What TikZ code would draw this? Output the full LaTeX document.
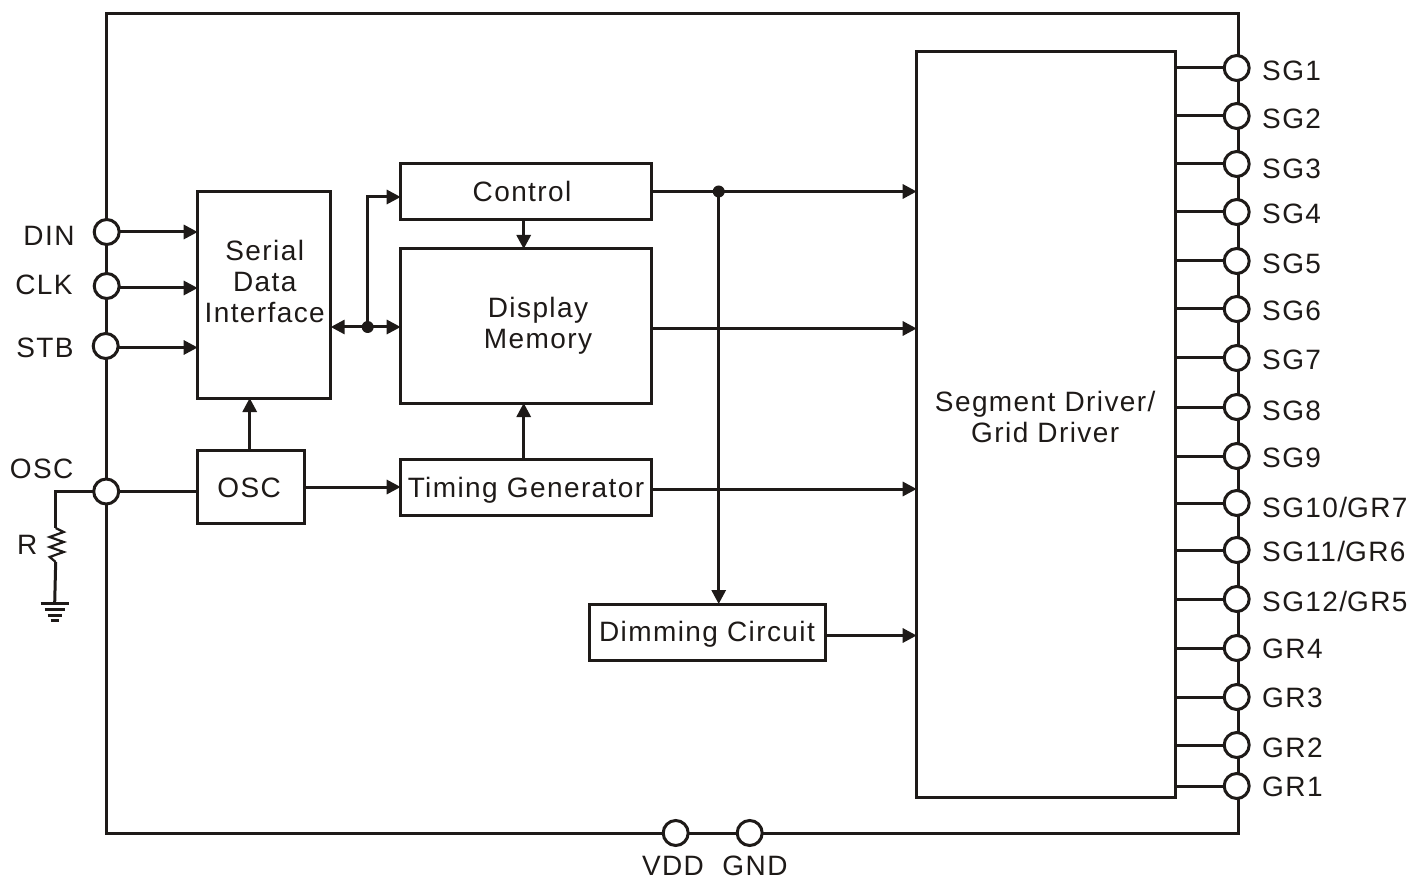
\documentclass[tikz,border=0pt]{standalone}
\usepackage{fontspec}
\setmainfont[LetterSpace=5]{Liberation Sans}
\usetikzlibrary{arrows.meta}
\definecolor{ink}{HTML}{1E1A18}
\tikzset{
  wire/.style={draw=ink,line width=3pt,line join=miter},
  arr/.style={wire,-{Triangle[length=14pt,width=14pt]},shorten >=0pt},
  biarr/.style={wire,{Triangle[length=14pt,width=14pt]}-{Triangle[length=14pt,width=14pt]}},
  block/.style={draw=ink,line width=3pt,fill=white,inner sep=0pt,outer sep=0pt},
  pin/.style={circle,draw=ink,line width=3pt,fill=white,minimum size=25pt,inner sep=0pt,outer sep=0pt},
  dot/.style={circle,fill=ink,minimum size=12pt,inner sep=0pt,outer sep=0pt},
  lbl/.style={text=ink,inner sep=0pt,outer sep=0pt,align=center,font=\fontsize{28}{31}\selectfont},
  pinlbl/.style={lbl,anchor=west},
}
\begin{document}
\begin{tikzpicture}[x=1pt,y=-1pt]
\useasboundingbox (0.3,0) rectangle (1425.3,877);
\fill[white] (0.3,0) rectangle (1425.3,877);
% frame
\coordinate (ftl) at (107,14);
\coordinate (fbr) at (1239,833);
\draw[wire] (ftl) rectangle (fbr);
% blocks
\node[block,minimum width=133pt,minimum height=206pt] (serial) at (264.5,295) {};
\node[lbl] (serialt) at (265,281.5) {Serial\\Data\\Interface};
\node[block,minimum width=251pt,minimum height=56pt] (control) at (526.5,192) {};
\node[lbl] (controlt) at (522.3,191.5) {Control};
\node[block,minimum width=251pt,minimum height=154pt] (memory) at (526.5,326) {};
\node[lbl] (memoryt) at (538.3,326) {Display\\Memory};
\node[block,minimum width=107pt,minimum height=73pt] (oscb) at (251.5,486.5) {};
\node[lbl] (osct) at (249.5,488) {OSC};
\node[block,minimum width=251pt,minimum height=56pt] (timing) at (526.5,487) {};
\node[lbl] (timingt) at (526.3,490) {Timing Generator};
\node[block,minimum width=236pt,minimum height=56pt] (dimming) at (708,632) {};
\node[lbl] (dimmingt) at (707.3,634.5) {Dimming Circuit};
\node[block,minimum width=259pt,minimum height=745pt] (driver) at (1046.5,424.5) {};
\node[lbl] (drivert) at (1045.5,416.5) {Segment Driver/\\Grid Driver};
% right pins
\foreach \name/\py/\ly/\txt in {
  a/68/70.5/SG1, b/116/118.5/SG2, c/164/168.5/SG3, d/212/214/SG4,
  e/261/263.5/SG5, f/309/310.5/SG6, g/358/360/SG7, h/407/411/SG8,
  i/456/457.5/SG9, j/503/507/SG10\slash GR7, k/550/551.5/SG11\slash GR6, l/599/601/SG12\slash GR5,
  m/648/649/GR4, n/697/698/GR3, o/745/747.5/GR2, p/786/787/GR1}{
  \node[pin] (r\name) at (1237,\py) {};
  \draw[wire] (r\name.west) -- (r\name.west -| driver.east);
  \node[pinlbl] (t\name) at (1262.5,\ly) {\txt};
}
% left pins
\node[pin] (din) at (107,232) {};
\node[pin] (clk) at (107,286) {};
\node[pin] (stb) at (106,346) {};
\node[pin] (oscp) at (106.5,491.5) {};
\node[lbl] (dint) at (49.3,236) {DIN};
\node[lbl] (clkt) at (44.3,285) {CLK};
\node[lbl] (stbt) at (45.3,347.5) {STB};
\node[lbl] (oscl) at (42,468.5) {OSC};
% bottom pins
\node[pin] (vdd) at (676,833) {};
\node[pin] (gnd) at (750,833) {};
\node[lbl] (vddt) at (673.3,866) {VDD};
\node[lbl] (gndt) at (755.3,866) {GND};
% input arrows
\coordinate (clkin) at (198,288);
\coordinate (stbin) at (198,347.5);
\draw[arr] (din.east) -- (din.east -| serial.west);
\draw[arr] (clk.east |- clkin) -- (clkin);
\draw[arr] (stb.east |- stbin) -- (stbin);
% osc connections
\coordinate (oscup) at (250,450);
\coordinate (oscout) at (305,487);
\draw[wire] (oscp.east) -- (oscp.east -| oscb.west);
\draw[arr] (oscup) -- (oscup |- serial.south);
\draw[arr] (oscout) -- (oscout -| timing.west);
% bus
\node[dot] (busdot) at (368,327) {};
\coordinate (busl) at (serial.east |- busdot);
\coordinate (busr) at (memory.west |- busdot);
\coordinate (ctlin) at (control.west |- 0,197);
\draw[biarr] (busl) -- (busr);
\draw[arr] (busdot.center) -- (busdot.center |- ctlin) -- (ctlin);
% memory feeds
\coordinate (ctlm) at (524,220);
\coordinate (timm) at (524,459);
\draw[arr] (ctlm) -- (ctlm |- memory.north);
\draw[arr] (timm) -- (timm |- memory.south);
% driver feeds
\node[dot] (ctldot) at (719,191.5) {};
\coordinate (ctlout) at (control.east |- ctldot);
\coordinate (memout) at (652,328.5);
\coordinate (timout) at (652,489);
\coordinate (dimout) at (826,635.5);
\draw[arr] (ctlout) -- (ctlout -| driver.west);
\draw[arr] (memout) -- (memout -| driver.west);
\draw[arr] (timout) -- (timout -| driver.west);
\draw[arr] (dimout) -- (dimout -| driver.west);
\draw[arr] (ctldot.center) -- (ctldot.center |- dimming.north);
% external resistor
\coordinate (rtop) at (56,491.5);
\coordinate (rs) at (56,528);
\coordinate (re) at (56,562);
\coordinate (gt) at (55,603);
\node[lbl] (rl) at (27.5,545) {R};
\draw[wire] (oscp.west) -- (rtop) -- (rs);
\draw[draw=ink,line width=2.2pt,line join=miter] (rs) -- (64,532) -- (50,537) -- (64,542) -- (50,547) -- (64,552) -- (50,557) -- (re);
\draw[wire] (re) -- (gt);
\draw[wire] (41,603.5) -- (69,603.5);
\draw[wire] (45,609.5) -- (65,609.5);
\draw[wire] (48,615) -- (62,615);
\draw[wire] (51,620) -- (59,620);
\end{tikzpicture}
\end{document}
